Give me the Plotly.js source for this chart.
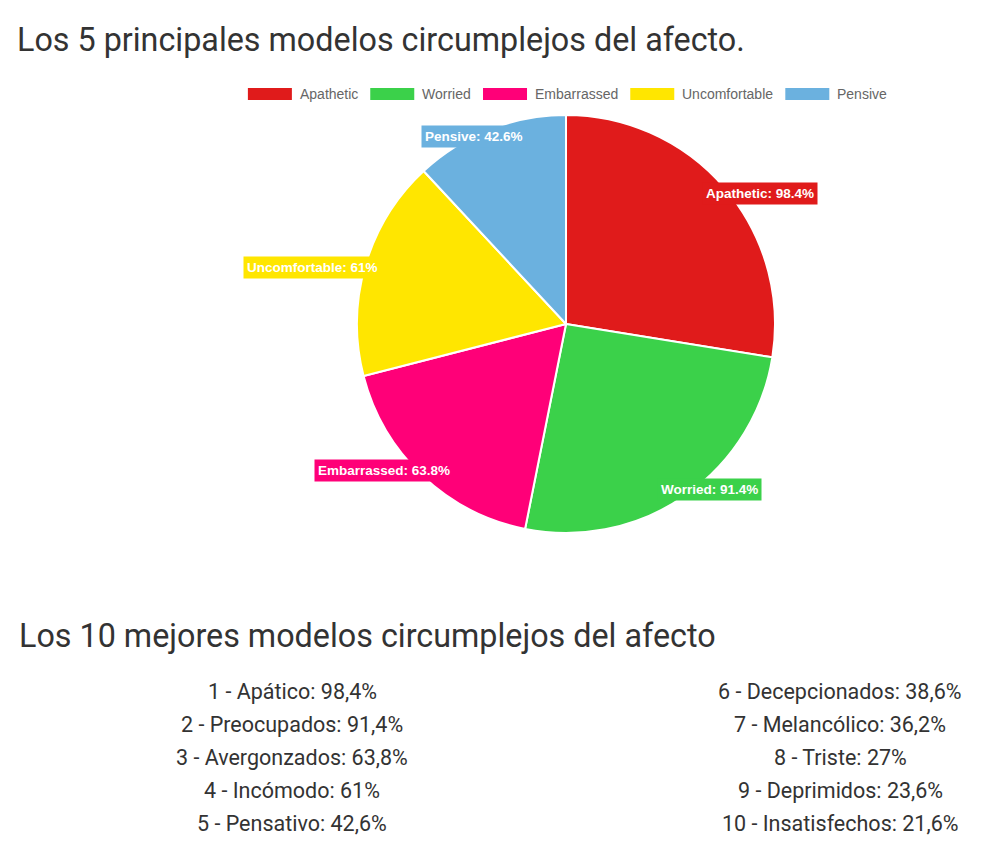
<!DOCTYPE html>
<html>
<head>
<meta charset="utf-8">
<script src="https://cdn.plot.ly/plotly-3.0.1.min.js"></script>
<style>
  html, body { margin: 0; padding: 0; background: #fff; }
  #chart { width: 987px; height: 855px; }
</style>
</head>
<body>
<div id="chart"></div>
<script>
// pie data
const labels = ['Apathetic', 'Worried', 'Embarrassed', 'Uncomfortable', 'Pensive'];
const values = [98.4, 91.4, 63.8, 61, 42.6];
const colors = ['#E01B1B', '#3BD14A', '#FF0078', '#FFE600', '#6BB1DF'];

// ranking list
const rankNames = ['Apático', 'Preocupados', 'Avergonzados', 'Incómodo', 'Pensativo',
  'Decepcionados', 'Melancólico', 'Triste', 'Deprimidos', 'Insatisfechos'];
const rankValues = [98.4, 91.4, 63.8, 61, 42.6, 38.6, 36.2, 27, 23.6, 21.6];

const W = 987, H = 855;
const px = (x) => x / W;
const py = (y) => 1 - y / H;

// pie placement (pixels)
const cx = 566, cy = 324, R = 209;

const ctx = document.createElement('canvas').getContext('2d');
measure = (txt, font) => {
  ctx.font = font;
  return ctx.measureText(txt).width;
};

const annotations = [];
const shapes = [];

// slice labels, placed from each slice's mid angle
const total = values.reduce((a, b) => a + b, 0);
let acc = 0;
values.forEach((v, i) => {
  const mid = (acc + v / 2) / total * 2 * Math.PI;
  acc += v;
  const txt = `${labels[i]}: ${v}%`;
  const hw = measure(txt, 'bold 13.5px "Liberation Sans", Arial') / 2 + 4;
  const x = cx + Math.sin(mid) * (R + 0.8 * hw);
  const y = cy - Math.cos(mid) * (R - 7);
  annotations.push({
    xref: 'paper', yref: 'paper', x: px(x), y: py(y),
    xanchor: 'center', yanchor: 'middle', showarrow: false,
    text: `<b>${txt}</b>`,
    font: { family: '"Liberation Sans", Arial', size: 13.5, color: '#fff' },
    bgcolor: colors[i], borderpad: 3
  });
});

// legend drawn by hand so the swatches can be wide boxes
const legFont = '14px "Liberation Sans", Arial';
const swW = 44, swH = 12, swGap = 7, itemGap = 13;
const widths = labels.map((l) => swW + swGap + measure(l, legFont));
const legTotal = widths.reduce((a, b) => a + b, 0) + itemGap * (labels.length - 1);
let lx = 567 - legTotal / 2;
labels.forEach((l, i) => {
  shapes.push({
    type: 'rect', xref: 'paper', yref: 'paper',
    x0: px(lx), x1: px(lx + swW), y0: py(88 + swH), y1: py(88),
    fillcolor: colors[i], line: { width: 0 }
  });
  annotations.push({
    xref: 'paper', yref: 'paper', x: px(lx + swW + swGap - 1), y: py(94),
    xanchor: 'left', yanchor: 'middle', showarrow: false,
    text: l, font: { family: '"Liberation Sans", Arial', size: 14, color: '#666' }
  });
  lx += widths[i] + itemGap;
});

// second heading
annotations.push({
  xref: 'paper', yref: 'paper', x: px(17), y: py(636),
  xanchor: 'left', yanchor: 'middle', showarrow: false,
  text: 'Los 10 mejores modelos circumplejos del afecto',
  font: { family: 'Roboto', size: 32.3, color: '#333' }
});

// ranking list in two columns
rankNames.forEach((n, i) => {
  const col = i < 5 ? 292 : 840;
  annotations.push({
    xref: 'paper', yref: 'paper', x: px(col), y: py(691 + (i % 5) * 33),
    xanchor: 'center', yanchor: 'middle', showarrow: false,
    text: `${i + 1} - ${n}: ${String(rankValues[i]).replace('.', ',')}%`,
    font: { family: 'Roboto', size: 21.5, color: '#333' }
  });
});

const pie = {
  type: 'pie',
  labels: labels,
  values: values,
  sort: false,
  direction: 'clockwise',
  rotation: 0,
  textinfo: 'none',
  hoverinfo: 'label+value',
  marker: { colors: colors, line: { color: '#fff', width: 2 } },
  domain: { x: [px(cx - R), px(cx + R)], y: [py(cy + R), py(cy - R)] }
};

const layout = {
  width: W,
  height: H,
  margin: { l: 0, r: 0, t: 0, b: 0 },
  paper_bgcolor: '#fff',
  showlegend: false,
  font: { family: 'Roboto', color: '#333' },
  title: {
    text: 'Los 5 principales modelos circumplejos del afecto.',
    x: px(17), xanchor: 'left',
    y: py(40), yanchor: 'middle',
    font: { family: 'Roboto', size: 32.3, color: '#333' }
  },
  annotations: annotations,
  shapes: shapes
};

Plotly.newPlot('chart', [pie], layout, { displayModeBar: false });
</script>
</body>
</html>
